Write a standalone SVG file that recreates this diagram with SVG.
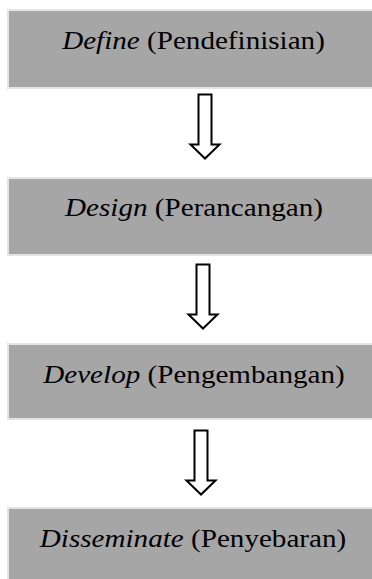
<svg xmlns="http://www.w3.org/2000/svg" width="372" height="579" viewBox="0 0 372 579">
<defs>
<style>
.box{fill:#a6a6a6;stroke:#e4e4e4;stroke-width:2}
.lbl{font-family:'Liberation Serif','Times New Roman',Tinos,serif;font-size:25px;fill:#000;text-anchor:middle}
.it{font-style:italic}
.arr{fill:#fff;stroke:#000;stroke-width:2;stroke-linejoin:miter}
</style>
<path id="blockArrow" d="M-6.5,0 H6.5 V50 H14.5 L0,64 L-14.5,50 H-6.5 Z"/>
</defs>
<rect width="372" height="579" fill="#fff"/>
<g id="define">
<rect class="box" x="8" y="10" width="370" height="78"/>
<text class="lbl" transform="translate(193.5,49) scale(1.165,1)"><tspan class="it">Define</tspan> (Pendefinisian)</text>
</g>
<g id="design">
<rect class="box" x="8" y="178" width="370" height="77"/>
<text class="lbl" transform="translate(194,216) scale(1.165,1)"><tspan class="it">Design</tspan> (Perancangan)</text>
</g>
<g id="develop">
<rect class="box" x="8" y="344" width="370" height="75"/>
<text class="lbl" transform="translate(194,383) scale(1.165,1)"><tspan class="it">Develop</tspan> (Pengembangan)</text>
</g>
<g id="disseminate">
<rect class="box" x="8" y="508" width="370" height="80"/>
<text class="lbl" transform="translate(193,547) scale(1.165,1)"><tspan class="it">Disseminate</tspan> (Penyebaran)</text>
</g>
<g id="connectors">
<use href="#blockArrow" class="arr" transform="translate(205,94.5)"/>
<use href="#blockArrow" class="arr" transform="translate(203,264.5)"/>
<use href="#blockArrow" class="arr" transform="translate(201,430.5)"/>
</g>
</svg>
